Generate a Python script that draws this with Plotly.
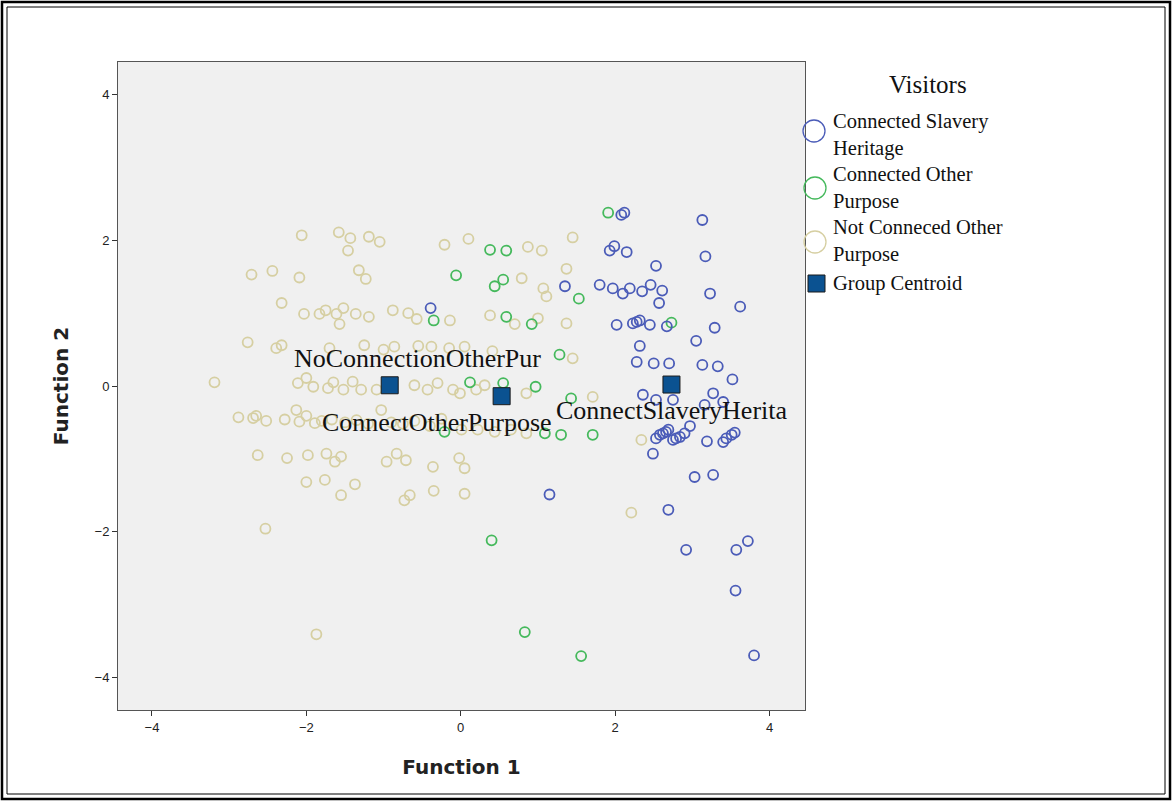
import plotly.graph_objects as go

# ---- data (Function 1, Function 2 discriminant scores) ----
tan_x = [-2.06,-1.58,-1.43,-1.19,-1.05,-1.46,
         -2.71,-2.44,-2.09,-1.32,-1.23,-2.32,
         -2.03,-1.83,-1.75,-1.61,-1.52,-1.36,-1.19,-1.57,-0.88,-0.68,-0.57,-0.14,
         -0.21,0.10,0.87,1.05,1.45,0.79,1.37,1.07,1.11,0.38,0.70,1.00,1.37,
         -2.76,-2.39,-2.32,-1.70,-1.25,-1.00,-0.86,-0.55,-0.38,-0.15,0.05,0.41,1.45,
         -3.19,-2.11,-2.00,-1.91,-1.72,-1.65,-1.52,-1.40,-1.29,-1.09,-0.60,-0.43,-0.30,-0.01,0.31,0.85,0.20,-0.10,
         -2.88,-2.69,-2.65,-2.52,-2.28,-2.13,-2.09,-2.00,-1.89,-1.67,-1.03,-1.80,-1.50,-1.35,-1.20,-0.90,-0.75,-0.60,-0.40,-0.25,0.01,0.22,0.44,0.85,0.65,
         -2.63,-2.25,-1.98,-1.74,-1.63,-1.55,-0.96,-0.83,-0.71,-0.36,-0.02,0.05,
         -2.00,-1.76,-1.37,-1.55,-0.73,-0.66,-0.35,0.05,
         -2.53,-1.87,2.21,1.71,2.34]
tan_y = [2.07,2.11,2.03,2.05,1.98,1.86,
         1.53,1.58,1.49,1.59,1.47,1.14,
         0.99,0.99,1.04,0.99,1.07,0.99,0.95,0.85,1.04,1.00,0.92,0.90,
         1.94,2.02,1.91,1.86,2.04,1.48,1.61,1.34,1.23,0.97,0.85,0.93,0.86,
         0.60,0.52,0.56,0.52,0.56,0.50,0.54,0.55,0.54,0.52,0.54,0.48,0.38,
         0.05,0.04,0.11,-0.01,-0.03,0.05,-0.05,0.06,-0.05,-0.05,0.01,-0.05,0.04,-0.10,0.01,-0.10,-0.05,-0.05,
         -0.43,-0.44,-0.41,-0.48,-0.46,-0.33,-0.49,-0.41,-0.51,-0.46,-0.33,-0.48,-0.50,-0.47,-0.52,-0.50,-0.52,-0.48,-0.55,-0.45,-0.60,-0.60,-0.63,-0.65,-0.60,
         -0.95,-0.99,-0.95,-0.93,-1.04,-0.97,-1.04,-0.93,-1.02,-1.11,-0.99,-1.13,
         -1.32,-1.29,-1.35,-1.50,-1.57,-1.50,-1.44,-1.48,
         -1.96,-3.41,-1.74,-0.15,-0.74]

green_x = [-0.06,0.38,0.59,0.55,0.44,1.53,-0.35,0.59,0.92,1.91,2.73,1.28,
           0.12,0.55,0.97,1.43,-0.21,1.09,1.30,1.71,0.40,0.83,1.56]
green_y = [1.52,1.87,1.86,1.46,1.37,1.20,0.90,0.95,0.85,2.38,0.87,0.43,
           0.05,0.04,-0.01,-0.17,-0.63,-0.65,-0.67,-0.67,-2.12,-3.38,-3.71]

blue_x = [-0.39,1.35,2.08,2.12,3.13,1.93,1.99,2.15,3.17,2.53,1.80,1.97,2.10,2.19,2.35,2.46,2.61,2.57,3.23,3.62,
          2.02,2.23,2.28,2.32,2.45,2.67,3.29,3.05,2.32,2.28,2.50,2.70,3.13,3.33,3.52,
          2.36,2.53,2.75,3.27,3.40,3.16,2.97,2.49,2.53,2.62,2.69,2.75,2.84,2.90,2.58,2.66,2.79,
          3.19,3.40,3.44,3.51,3.55,3.03,3.27,1.15,2.69,2.92,3.57,3.72,3.56,3.80]
blue_y = [1.07,1.37,2.35,2.38,2.28,1.86,1.92,1.84,1.78,1.65,1.39,1.34,1.27,1.34,1.30,1.39,1.31,1.14,1.27,1.09,
          0.84,0.86,0.88,0.90,0.84,0.82,0.80,0.62,0.55,0.33,0.31,0.31,0.29,0.27,0.09,
          -0.12,-0.19,-0.19,-0.10,-0.22,-0.26,-0.55,-0.93,-0.72,-0.65,-0.60,-0.74,-0.70,-0.65,-0.67,-0.63,-0.72,
          -0.76,-0.77,-0.72,-0.67,-0.64,-1.25,-1.22,-1.49,-1.70,-2.25,-2.25,-2.13,-2.81,-3.70]

centroid_names = ["NoConnectionOtherPur", "ConnectOtherPurpose", "ConnectSlaveryHerita"]
centroid_x = [-0.92, 0.53, 2.73]
centroid_y = [0.01, -0.14, 0.02]

legend_title = "Visitors"
legend_labels = ["Connected Slavery<br>Heritage",
                 "Connected Other<br>Purpose",
                 "Not Conneced Other<br>Purpose",
                 "Group Centroid"]

tick_vals = [-4, -2, 0, 2, 4]

# ---- styles ----
C_BLUE = "#4b5cb8"
C_GREEN = "#45b95c"
C_TAN = "#d6cfa2"
C_CENT = "#0b5291"
SERIF = "Liberation Serif, Times New Roman, serif"

# plot-area geometry in page pixels
L, R, T, B = 118, 805, 62, 710
W, H = R - L, B - T
def px(x):
    return (x - L) / W
def py(y):
    return 1 - (y - T) / H

fig = go.Figure()

def ring(x, y, color, name):
    fig.add_trace(go.Scatter(
        x=x, y=y, mode="markers", name=name, showlegend=False,
        marker=dict(symbol="circle-open", size=10, color=color,
                    line=dict(color=color, width=1.8)),
        hoverinfo="skip"))

ring(tan_x, tan_y, C_TAN, "Not Conneced Other Purpose")
ring(green_x, green_y, C_GREEN, "Connected Other Purpose")
ring(blue_x, blue_y, C_BLUE, "Connected Slavery Heritage")

fig.add_trace(go.Scatter(
    x=centroid_x, y=centroid_y, mode="markers", name="Group Centroid", showlegend=False,
    marker=dict(symbol="square", size=17, color=C_CENT,
                line=dict(color="#1a1a1a", width=1)),
    hoverinfo="skip"))

# centroid labels (offsets in pixels from the centroid marker)
label_shift = [(28, 27), (-65, -26), (0, -26)]
for nm, cx, cy, (dx, dy) in zip(centroid_names, centroid_x, centroid_y, label_shift):
    fig.add_annotation(x=cx, y=cy, text=nm, showarrow=False, xshift=dx, yshift=dy,
                       font=dict(family=SERIF, size=26, color="#111111"))

# ---- manual legend ----
fig.add_annotation(xref="paper", yref="paper", x=px(928), y=py(84),
                   text=legend_title, showarrow=False, xanchor="center", yanchor="middle",
                   font=dict(family=SERIF, size=25, color="#111111"))
entry_y = [134.5, 188, 241, 283]
for t, yy in zip(legend_labels, entry_y):
    fig.add_annotation(xref="paper", yref="paper", x=px(832), y=py(yy),
                       text=t, showarrow=False, xanchor="left", yanchor="middle",
                       align="left", borderpad=0,
                       font=dict(family=SERIF, size=20.5, color="#111111"))
sym_pos = [(814, 131, C_BLUE), (815, 188, C_GREEN), (815, 242, C_TAN)]
for cxp, cyp, col in sym_pos:
    fig.add_shape(type="circle", xref="paper", yref="paper",
                  x0=px(cxp - 11), x1=px(cxp + 11), y0=py(cyp + 11), y1=py(cyp - 11),
                  line=dict(color=col, width=1.3))
fig.add_shape(type="rect", xref="paper", yref="paper",
              x0=px(808), x1=px(825), y0=py(292), y1=py(275),
              fillcolor=C_CENT, line=dict(color="#1a1a1a", width=1))

# outer double frame
def frame(x0, y0, x1, y1, w):
    fig.add_shape(type="rect", xref="paper", yref="paper",
                  x0=px(x0), x1=px(x1), y0=py(y1), y1=py(y0),
                  line=dict(color="black", width=w), layer="above")
frame(2, 2, 1170, 799, 2.5)
frame(7, 7, 1165, 794, 1)

axis_common = dict(tickvals=tick_vals, ticks="outside", ticklen=5, tickcolor="#333",
                   showgrid=False, zeroline=False, showline=True,
                   linecolor="#555", linewidth=1, mirror=True,
                   tickfont=dict(family="Liberation Sans, Arial", size=13, color="#222"))

fig.update_layout(
    width=1173, height=802,
    margin=dict(l=L, r=1173 - R, t=T, b=802 - B),
    paper_bgcolor="white", plot_bgcolor="#f0f0f0",
    showlegend=False,
    xaxis=dict(range=[-4.44, 4.46], **axis_common,
               title=dict(text="<b>Function 1</b>", standoff=26,
                          font=dict(family="DejaVu Sans", size=20, color="#222"))),
    yaxis=dict(range=[-4.45, 4.45], **axis_common,
               title=dict(text="<b>Function 2</b>", standoff=20,
                          font=dict(family="DejaVu Sans", size=20, color="#222"))),
)

fig.write_html("out.html", config={"displayModeBar": False},
               post_script="document.body.style.margin='0px';document.body.style.overflow='hidden';")
